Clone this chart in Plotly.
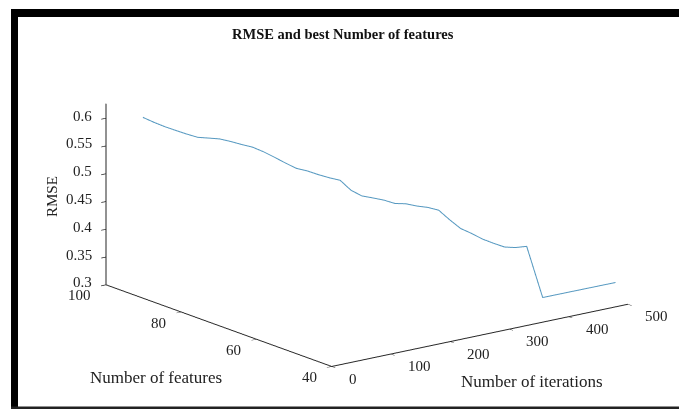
import plotly.graph_objects as go

# Data
iterations = [0, 10, 20, 30, 40, 50, 60, 70, 80, 90, 100, 110, 120, 130, 140, 150, 160, 170, 180,
              190, 200, 210, 220, 230, 240, 250, 260, 270, 280, 290, 300, 310, 320, 330, 340, 350,
              377, 500]
features = [90.2, 88.9, 87.5, 86.2, 84.8, 83.5, 82.1, 80.8, 79.5, 78.1, 76.8, 75.4, 74.1, 72.7,
            71.4, 70.1, 68.7, 67.4, 66.1, 64.8, 63.5, 62.1, 60.8, 59.4, 58.1, 56.7, 55.4, 54.1,
            52.7, 51.4, 50.0, 48.7, 47.3, 46.0, 44.7, 43.3, 43.3, 43.3]
rmse = [0.6255, 0.6177, 0.6108, 0.6051, 0.5996, 0.5948, 0.5946, 0.5940, 0.5904, 0.5861, 0.5823,
        0.5750, 0.5662, 0.5568, 0.5483, 0.5447, 0.5391, 0.5345, 0.5309, 0.5139, 0.5047, 0.5022,
        0.4993, 0.4944, 0.4948, 0.4919, 0.4904, 0.4864, 0.4700, 0.4555, 0.4476, 0.4385, 0.4320,
        0.4264, 0.4264, 0.4298, 0.3316, 0.3311]

x_ticks = [0, 100, 200, 300, 400, 500]
y_ticks = [40, 60, 80, 100]
z_ticks = [0.3, 0.35, 0.4, 0.45, 0.5, 0.55, 0.6]
z_tick_text = ["0.3", "0.35", "0.4", "0.45", "0.5", "0.55", "0.6"]

x_range = [0, 500]
y_range = [40, 100]
z_range = [0.3, 0.626]

title_text = "RMSE and best Number of features"
x_title = "Number of iterations"
y_title = "Number of features"
z_title = "RMSE"

FONT = "Liberation Serif"
AXC = "#262626"
TXT = "#222"
W, H = 679, 402   # page body has an 8px margin
OFF = 8


def px(X):
    return (X - OFF) / W


def py(Y):
    return 1 - (Y - OFF) / H


fig = go.Figure()
fig.add_trace(go.Scatter3d(
    x=iterations, y=features, z=rmse, mode="lines",
    line=dict(color="rgb(85,152,192)", width=2),
    showlegend=False, hoverinfo="skip"))


def ax(rng, tv):
    return dict(range=rng, tickvals=tv, showgrid=False, zeroline=False, showbackground=False,
                showline=True, linecolor=AXC, linewidth=2, ticks="outside", ticklen=6,
                tickwidth=1.5, tickcolor=AXC, showspikes=False, title=dict(text=""),
                showticklabels=False)


tick_font = dict(family=FONT, size=15, color=TXT)
scene_ann = []
for t in x_ticks:   # iterations labels along the front floor edge
    scene_ann.append(dict(x=t, y=y_range[0], z=z_range[0], text=str(t), showarrow=False,
                          xanchor="left", yanchor="middle", xshift=15, yshift=-12, font=tick_font))
for t in y_ticks:   # feature labels along the left floor edge
    scene_ann.append(dict(x=x_range[0], y=t, z=z_range[0], text=str(t), showarrow=False,
                          xanchor="right", yanchor="middle", xshift=-13, yshift=-10.5, font=tick_font))
for t, s in zip(z_ticks, z_tick_text):   # RMSE labels on the vertical axis
    scene_ann.append(dict(x=x_range[0], y=y_range[1], z=t, text=s, showarrow=False,
                          xanchor="right", yanchor="middle", xshift=-12.5, yshift=2.5, font=tick_font))

S = 1.9
v = (-0.582, -0.764, 0.2755)
fig.update_layout(
    width=W, height=H,
    margin=dict(l=0, r=0, t=0, b=0),
    paper_bgcolor="white",
    scene=dict(
        domain=dict(x=[0.0574, 1.0], y=[0.0248, 1.0]),
        xaxis=ax(x_range, x_ticks),
        yaxis=ax(y_range, y_ticks),
        zaxis=ax(z_range, z_ticks),
        aspectmode="manual", aspectratio=dict(x=S, y=S, z=0.5058 * S),
        camera=dict(eye=dict(x=v[0]*2, y=v[1]*2, z=v[2]*2), center=dict(x=0, y=0, z=0),
                    up=dict(x=0, y=0, z=1), projection=dict(type="orthographic")),
        bgcolor="white",
        annotations=scene_ann,
    ),
    annotations=[
        dict(text="<b>" + title_text + "</b>", x=px(343), y=py(34), xref="paper", yref="paper",
             showarrow=False, font=dict(family=FONT, size=14.5, color="#111"), xanchor="center", yanchor="middle"),
        dict(text=y_title, x=px(88), y=py(377), xref="paper", yref="paper", showarrow=False,
             font=dict(family=FONT, size=17, color=TXT), xanchor="left", yanchor="middle"),
        dict(text=x_title, x=px(459), y=py(381), xref="paper", yref="paper", showarrow=False,
             font=dict(family=FONT, size=17, color=TXT), xanchor="left", yanchor="middle"),
        dict(text=z_title, x=px(52), y=py(197), xref="paper", yref="paper", showarrow=False,
             textangle=-90, font=dict(family=FONT, size=15, color=TXT), xanchor="center", yanchor="middle"),
    ],
    shapes=[
        dict(type="rect", xref="paper", yref="paper", x0=px(11), x1=1, y0=py(17), y1=py(9),
             fillcolor="black", line=dict(width=0)),
        dict(type="rect", xref="paper", yref="paper", x0=px(11), x1=px(18), y0=py(408), y1=py(9),
             fillcolor="black", line=dict(width=0)),
        dict(type="rect", xref="paper", yref="paper", x0=px(11), x1=1, y0=py(409), y1=py(406.5),
             fillcolor="#222", line=dict(width=0)),
    ],
)

fig.write_html("out.html")
